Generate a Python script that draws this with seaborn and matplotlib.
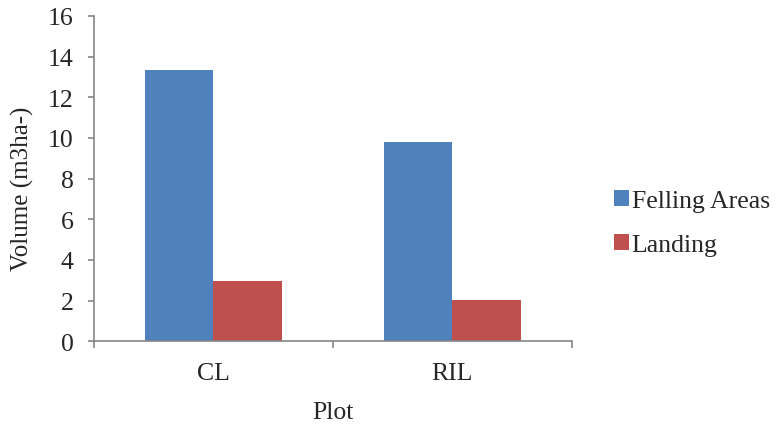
import matplotlib
matplotlib.use("Agg")
import matplotlib.pyplot as plt
import seaborn as sns
import pandas as pd

plots = ["CL", "RIL"]
felling = [13.33, 9.78]
landing = [2.96, 2.05]
series = ["Felling Areas", "Landing"]
yticks = [0, 2, 4, 6, 8, 10, 12, 14, 16]

df = pd.DataFrame({
    "Plot": plots * 2,
    "Volume": felling + landing,
    "Series": [series[0]] * 2 + [series[1]] * 2,
})

sns.set_style("white")
plt.rcParams["font.family"] = ["Liberation Serif", "DejaVu Serif"]
FS = 18.5

fig = plt.figure(figsize=(7.8, 4.27), dpi=100)
ax = fig.add_axes([0.1205, 0.1984, 0.6125, 0.7618])
sns.barplot(data=df, x="Plot", y="Volume", hue="Series", order=plots,
            hue_order=series, palette=["#4F81BD", "#C0504D"],
            width=0.572, saturation=1, ax=ax, legend=True)
for p in ax.patches:
    p.set_edgecolor("none")

ax.set_xlim(-0.5, 1.5)
ax.set_ylim(0, 16)
ax.set_yticks(yticks)
ax.set_yticklabels([str(v) for v in yticks], fontsize=FS)
ax.set_xticks([0, 1])
ax.set_xticklabels(plots, fontsize=FS)
ax.set_xticks([-0.5, 0.5, 1.5], minor=True)
ax.tick_params(axis="x", which="major", length=0, pad=15)
ax.tick_params(axis="x", which="minor", length=5, width=1.2, color="#868686", direction="out", bottom=True)
ax.tick_params(axis="y", length=4.5, width=1.2, color="#868686", direction="out", left=True, pad=10)
for s in ["top", "right"]:
    ax.spines[s].set_visible(False)
for s in ["left", "bottom"]:
    ax.spines[s].set_color("#868686")
    ax.spines[s].set_linewidth(1.2)

ax.set_xlabel("Plot", fontsize=FS)
ax.xaxis.set_label_coords(0.5, -0.185)
ax.set_ylabel("Volume (m3ha-)", fontsize=FS - 0.5)
ax.yaxis.set_label_coords(-0.126, 0.471)

leg = ax.legend(loc="center left", bbox_to_anchor=(1.041, 0.363), frameon=False,
                fontsize=FS, handlelength=0.55, handleheight=0.55,
                handletextpad=0.12, labelspacing=0.85)

fig.savefig("out.png", dpi=100, facecolor="white")
